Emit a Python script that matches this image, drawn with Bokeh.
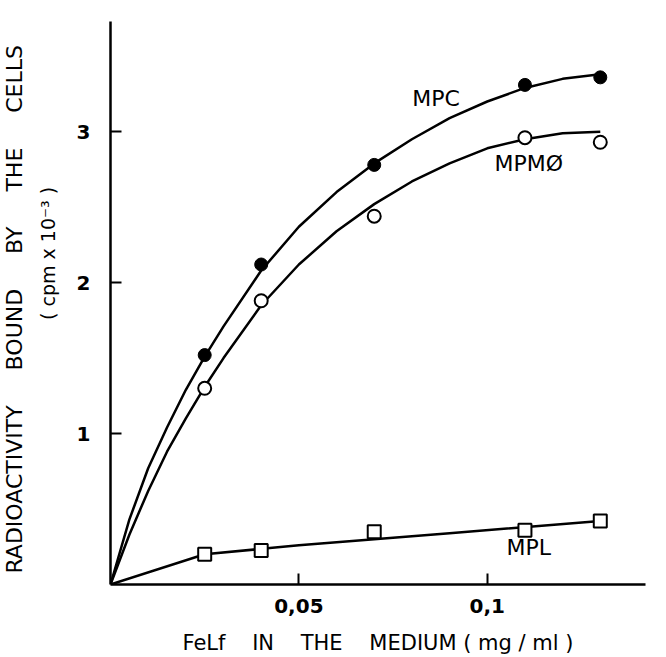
import math
from bokeh.plotting import figure
from bokeh.layouts import row
from bokeh.models import FixedTicker, Range1d
from bokeh.core.properties import value
from bokeh.embed import file_html
from bokeh.resources import INLINE

# measured points
conc = [0.025, 0.04, 0.07, 0.11, 0.13]
mpc = [1.52, 2.12, 2.78, 3.31, 3.36]
mpm = [1.30, 1.88, 2.44, 2.96, 2.93]
mpl = [0.20, 0.225, 0.35, 0.36, 0.42]

# hand-drawn curves
curve_x = [0, 0.005, 0.01, 0.015, 0.02, 0.025, 0.03, 0.04, 0.05, 0.06,
           0.07, 0.08, 0.09, 0.10, 0.11, 0.12, 0.13]
mpc_curve = [0, 0.43, 0.77, 1.04, 1.29, 1.51, 1.71, 2.08, 2.37, 2.60,
             2.79, 2.95, 3.09, 3.20, 3.29, 3.35, 3.38]
mpm_curve = [0, 0.33, 0.62, 0.88, 1.10, 1.31, 1.50, 1.85, 2.12, 2.34,
             2.52, 2.67, 2.79, 2.89, 2.95, 2.99, 3.00]
mpl_line_x = [0, 0.025, 0.05, 0.09, 0.13]
mpl_line_y = [0, 0.20, 0.26, 0.34, 0.42]

x_ticks = [0.05, 0.1]
x_tick_labels = ["0,05", "0,1"]
y_ticks = [1, 2, 3]

FONT = "DejaVu Sans"
SP = "\u00a0"
Y_TITLE = ("RADIOACTIVITY" + SP * 5 + "BOUND" + SP * 5 + "BY" + SP * 5
           + "THE" + SP * 5 + "CELLS")
Y_UNITS = "(" + SP + "cpm" + SP + "x" + SP + "10\u207b\u00b3" + SP + ")"
X_TITLE = ("FeLf" + SP * 4 + "IN" + SP * 4 + "THE" + SP * 4 + "MEDIUM"
           + SP + "(" + SP + "mg" + SP + "/" + SP + "ml" + SP + ")")

LEFT_W = 70
H = 657
TOP, BOTTOM = 21, 72

# narrow strip holding the two-line y-axis title; its frame lines up with the
# main plot frame, and its y range is in pixels counted from the page bottom
t = figure(width=LEFT_W, height=H, output_backend="svg", toolbar_location=None,
           x_range=Range1d(0, LEFT_W), y_range=Range1d(BOTTOM, H - TOP),
           x_axis_type=None, y_axis_type=None,
           min_border_left=0, min_border_right=0,
           min_border_top=TOP, min_border_bottom=BOTTOM)
t.outline_line_color = None
t.grid.visible = False
t.text(x=[14], y=[H - 574], text=[Y_TITLE], angle=math.pi / 2,
       text_font=value(FONT), text_font_size="22px", text_color="black",
       text_align="left", text_baseline="middle")
t.text(x=[47], y=[H - 320], text=[Y_UNITS], angle=math.pi / 2,
       text_font=value(FONT), text_font_size="19px", text_color="black",
       text_align="left", text_baseline="middle")

p_main = figure(width=666 - LEFT_W, height=H, output_backend="svg", toolbar_location=None,
                x_range=Range1d(0, 0.142), y_range=Range1d(0, 3.73),
                min_border_left=110 - LEFT_W, min_border_right=21, min_border_top=TOP,
                min_border_bottom=BOTTOM)
p_main.outline_line_color = None
p_main.grid.visible = False

for ax in (p_main.xaxis[0], p_main.yaxis[0]):
    ax.axis_line_width = 2.5
    ax.axis_line_color = "black"
    ax.major_tick_line_width = 2
    ax.major_tick_in = 11
    ax.major_tick_out = 0
    ax.minor_tick_line_color = None
    ax.major_label_text_font = FONT
    ax.major_label_text_font_size = "20px"
    ax.major_label_text_font_style = "bold"
    ax.major_label_text_color = "black"

p_main.xaxis.ticker = FixedTicker(ticks=x_ticks)
p_main.xaxis.major_label_overrides = dict(zip(x_ticks, x_tick_labels))
p_main.xaxis.major_label_standoff = 14
p_main.xaxis.axis_label = X_TITLE
p_main.xaxis.axis_label_text_font = FONT
p_main.xaxis.axis_label_text_font_size = "21px"
p_main.xaxis.axis_label_text_font_style = "normal"
p_main.xaxis.axis_label_text_color = "black"
p_main.xaxis.axis_label_standoff = 15

p_main.yaxis.ticker = FixedTicker(ticks=y_ticks)
p_main.yaxis.major_label_standoff = 20

p_main.line(curve_x, mpc_curve, line_color="black", line_width=2.5)
p_main.line(curve_x, mpm_curve, line_color="black", line_width=2.5)
p_main.line(mpl_line_x, mpl_line_y, line_color="black", line_width=2.5)

p_main.scatter(conc, mpc, marker="circle", size=13, fill_color="black", line_color="black")
p_main.scatter(conc, mpm, marker="circle", size=13, fill_color="white",
               line_color="black", line_width=2)
p_main.scatter(conc, mpl, marker="square", size=13, fill_color="white",
               line_color="black", line_width=2)

p_main.text(x=[0.0864], y=[3.22], text=["MPC"], text_font=value(FONT), text_font_size="22px",
            text_align="center", text_baseline="middle")
p_main.text(x=[0.111], y=[2.79], text=["MPMØ"], text_font=value(FONT), text_font_size="22px",
            text_align="center", text_baseline="middle")
p_main.text(x=[0.111], y=[0.245], text=["MPL"], text_font=value(FONT), text_font_size="22px",
            text_align="center", text_baseline="middle")

p = row(t, p_main, spacing=0)

open("out.html", "w").write(file_html(p, INLINE))
